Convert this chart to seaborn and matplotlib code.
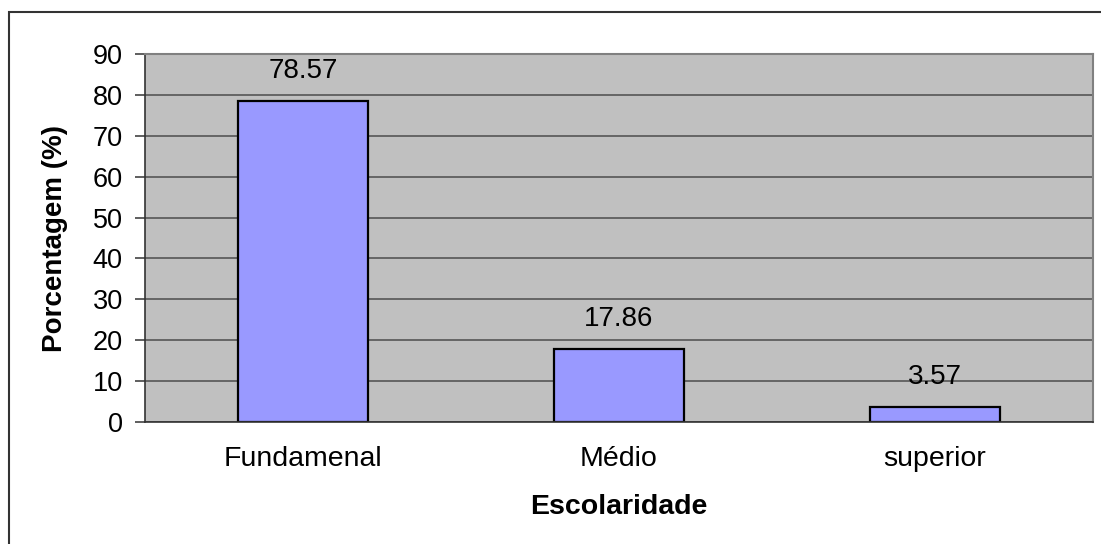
import matplotlib
matplotlib.use('Agg')
import matplotlib.pyplot as plt
import matplotlib.patches as patches
import seaborn as sns
import pandas as pd

# Data
categories = ['Fundamenal', 'Médio', 'superior']
percentages = [78.57, 17.86, 3.57]
y_ticks = [0, 10, 20, 30, 40, 50, 60, 70, 80, 90]

df = pd.DataFrame({'Escolaridade': categories, 'Porcentagem': percentages})

sns.set_style('white')
plt.rcParams['font.family'] = ['Liberation Sans', 'DejaVu Sans']
plt.rcParams['text.color'] = 'black'
plt.rcParams['axes.labelcolor'] = 'black'
plt.rcParams['xtick.labelcolor'] = 'black'
plt.rcParams['ytick.labelcolor'] = 'black'

fig = plt.figure(figsize=(11.01, 5.44), dpi=100)
ax = fig.add_axes([145 / 1101, 122 / 544, 948 / 1101, 368 / 544])
ax.set_facecolor('#C0C0C0')

sns.barplot(data=df, x='Escolaridade', y='Porcentagem', color='#9999FF',
            edgecolor='black', linewidth=1.6, width=0.41, saturation=1, ax=ax)

ax.set_ylim(0, 90)
ax.set_xlim(-0.5, 2.5)
ax.set_yticks(y_ticks)
ax.yaxis.grid(True, color='#4d4d4d', linewidth=1.1)
ax.set_axisbelow(True)

# value labels above bars
for i, v in enumerate(percentages):
    ax.annotate(f'{v:.2f}', (i, v), xytext=(0, 21.6), textcoords='offset points',
                ha='center', va='center', fontsize=20)

# category ticks between bars (Excel style)
ax.set_xticks([-0.5, 0.5, 1.5, 2.5], minor=True)
ax.tick_params(axis='x', which='major', length=0, labelsize=20.5, pad=17)
ax.tick_params(axis='x', which='minor', length=7, width=1.1, color='#333333', direction='out')
ax.tick_params(axis='y', length=7, width=1.1, color='#333333', direction='out',
               labelsize=19.5, pad=9, left=True)

for side in ['left', 'bottom']:
    ax.spines[side].set_color('#333333')
    ax.spines[side].set_linewidth(1.2)
for side in ['top', 'right']:
    ax.spines[side].set_color('#808080')
    ax.spines[side].set_linewidth(1.5)

ax.set_xlabel('Escolaridade', fontsize=20.5, fontweight='bold', labelpad=16)
ax.set_ylabel('Porcentagem (%)', fontsize=20, fontweight='bold', labelpad=18)

# outer chart frame
frame = patches.Rectangle((9 / 1101, -0.1), 1.2, (544 - 12) / 544 + 0.1,
                          transform=fig.transFigure, fill=False,
                          edgecolor='#333333', linewidth=1.5)
fig.patches.append(frame)

fig.savefig('out.png', dpi=100)
